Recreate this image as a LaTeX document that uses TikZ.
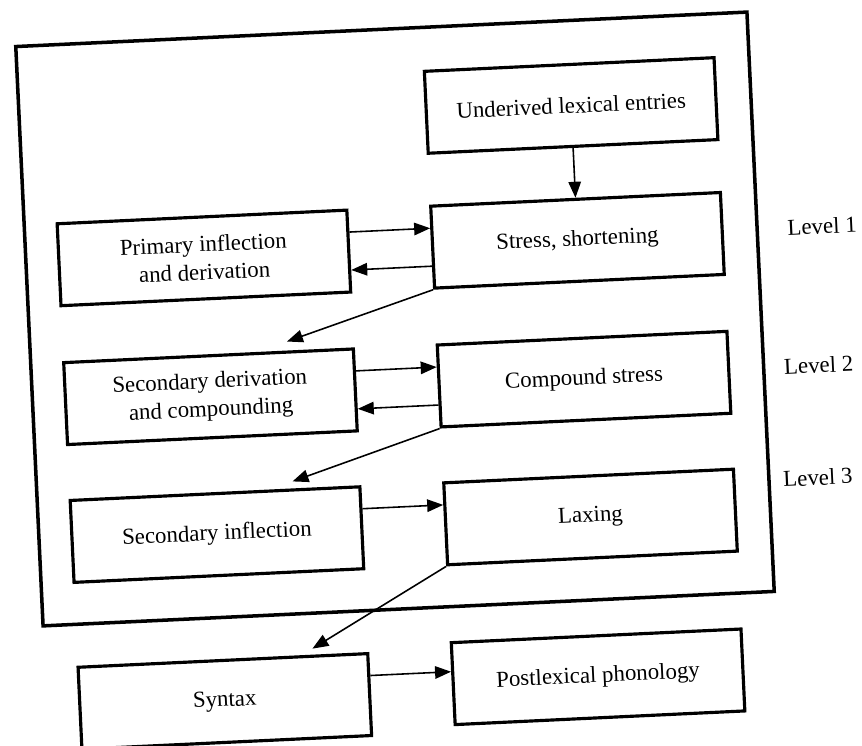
\documentclass[tikz,border=0pt]{standalone}
\usepackage{fontspec}
\setmainfont{Liberation Serif}
\usetikzlibrary{arrows.meta}

\tikzset{
    stage/.style={draw, line width=1.8pt, minimum width=58mm, minimum height=16.4mm,
        align=center, font=\fontsize{13}{16}\selectfont},
    flow/.style={line width=0.9pt, -{Triangle[length=3.2mm,width=2.5mm]}},
    levellabel/.style={font=\fontsize{13}{16}\selectfont}
}

\begin{document}
\begin{tikzpicture}[x=0.2mm,y=0.2mm]
    \useasboundingbox (0,0) rectangle (862,746);
    \begin{scope}[rotate around={2.7:(395,427)}, transform shape]
        % Lexicon frame
        \draw[line width=2pt] (29,137) rectangle (761,717);

        % Stages
        \node[stage] (underived) at (581,632) {Underived lexical entries};
        \node[stage] (stress) at (581,497) {Stress, shortening};
        \node[stage] (primary) at (207,497) {Primary inflection\\and derivation};
        \node[stage] (secderiv) at (207,358) {Secondary derivation\\and compounding};
        \node[stage] (compound) at (581,358) {Compound stress};
        \node[stage] (secinfl) at (207,220) {Secondary inflection};
        \node[stage] (laxing) at (581,220) {Laxing};
        \node[stage] (syntax) at (207,53) {Syntax};
        \node[stage] (postlex) at (581,60) {Postlexical phonology};

        % Level labels
        \node[levellabel] (level1) at (826,500) {Level 1};
        \node[levellabel] (level2) at (816,361) {Level 2};
        \node[levellabel] (level3) at (810,249) {Level 3};

        % Connectors
        \draw[flow] (underived.south) -- (stress.north);
        \draw[flow] ([yshift=3.8mm]primary.east) -- ([yshift=3.8mm]stress.west);
        \draw[flow] ([yshift=-3.8mm]stress.west) -- ([yshift=-3.8mm]primary.east);
        \draw[flow] (stress.south west) -- ([xshift=15.8mm,yshift=1.8mm]secderiv.north);
        \draw[flow] ([yshift=3.8mm]secderiv.east) -- ([yshift=3.8mm]compound.west);
        \draw[flow] ([yshift=-3.8mm]compound.west) -- ([yshift=-3.8mm]secderiv.east);
        \draw[flow] (compound.south west) -- ([xshift=15.6mm,yshift=1.4mm]secinfl.north);
        \draw[flow] ([yshift=3.8mm]secinfl.east) -- ([yshift=3.8mm]laxing.west);
        \draw[flow] (laxing.south west) -- ([xshift=18mm,yshift=1.2mm]syntax.north);
        \draw[flow] ([yshift=3.8mm]syntax.east) -- ([yshift=2.4mm]postlex.west);
    \end{scope}
\end{tikzpicture}
\end{document}
